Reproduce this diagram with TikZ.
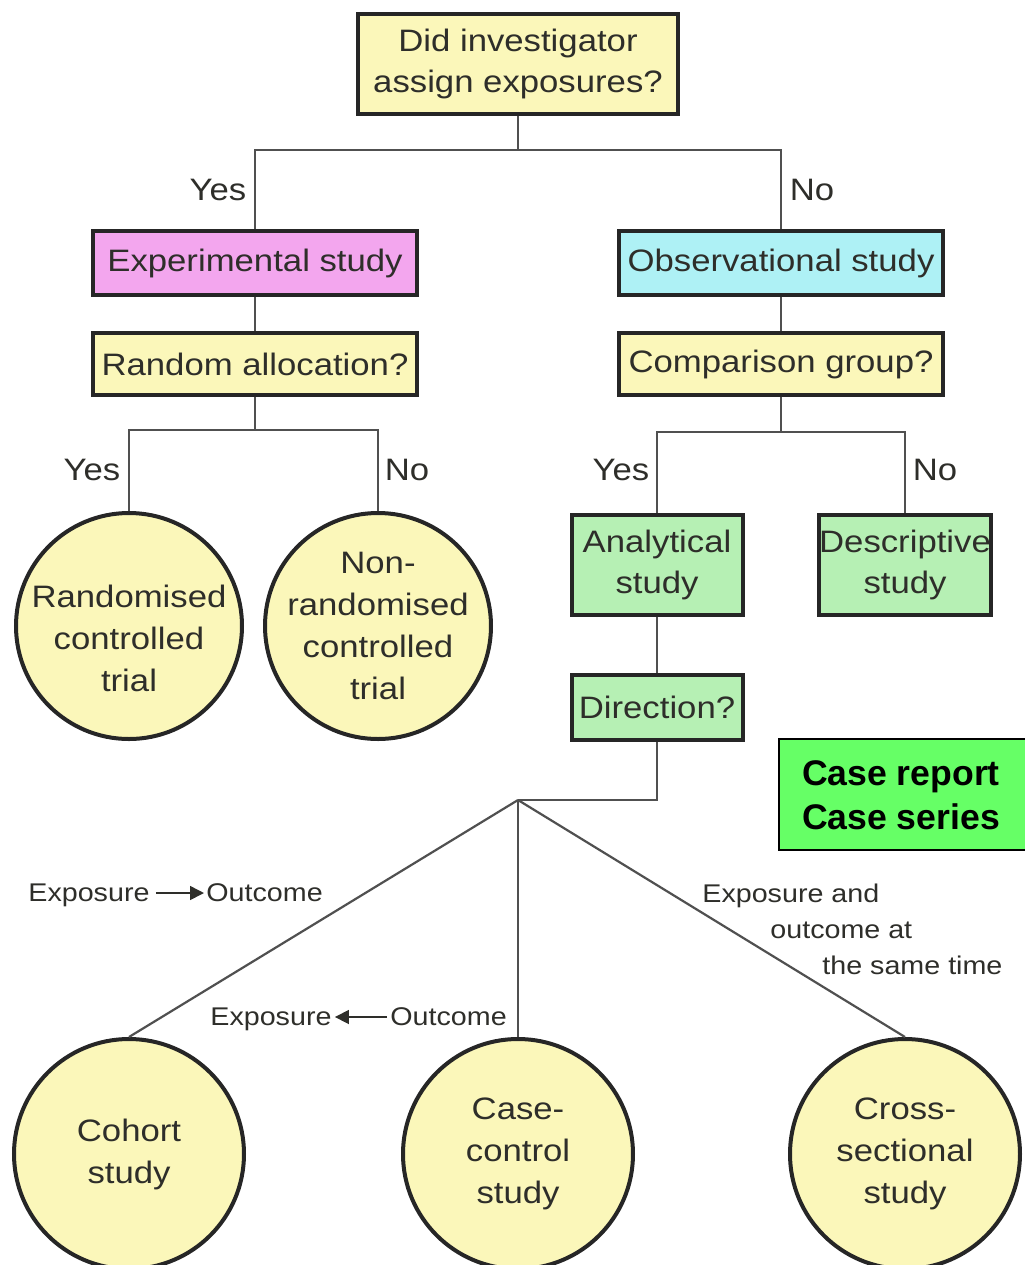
\documentclass[tikz,border=0pt]{standalone}
\usepackage{fontspec}
\setmainfont{Liberation Sans}
\newfontfamily\wide[FakeStretch=1.12]{Liberation Sans}
\usetikzlibrary{arrows.meta}
\definecolor{qyellow}{HTML}{FBF7BA}
\definecolor{qpink}{HTML}{F3A6EE}
\definecolor{qcyan}{HTML}{AEF1F5}
\definecolor{qgreen}{HTML}{B6F0B4}
\definecolor{qbright}{HTML}{66FF66}
\definecolor{qtext}{HTML}{2E2E2A}
\definecolor{qline}{HTML}{505050}
\newcommand{\circtext}[2]{\raisebox{#1}[0pt][0pt]{\begin{tabular}{@{}c@{}}#2\end{tabular}}}
\tikzset{
  qbox/.style={draw=black!85, line width=2pt, text=qtext, align=center, inner sep=0pt,
    font=\wide\fontsize{15.5}{20.5}\selectfont},
  qcirc/.style={circle, draw=black!85, line width=2pt, fill=qyellow, text=qtext, align=center,
    inner sep=0pt, font=\wide\fontsize{15.5}{21}\selectfont},
  conn/.style={draw=qline, line width=1.1pt},
  yn/.style={text=qtext, font=\wide\fontsize{15.5}{17}\selectfont, inner sep=0pt},
  lab/.style={text=qtext, font=\wide\fontsize{12.8}{14}\selectfont, inner sep=0pt},
  labarrow/.style={draw=qtext, line width=0.8pt, -{Triangle[length=7pt,width=7pt]}}
}
\begin{document}
\begin{tikzpicture}[x=0.5pt,y=-0.5pt]
\useasboundingbox (0,0) rectangle (1024,1265);
% boxes
\node[qbox, fill=qyellow, minimum width=160pt, minimum height=50pt] (q1) at (518,63.5) {Did investigator\\assign exposures?};
\node[qbox, fill=qpink, minimum width=162pt, minimum height=32pt] (exp) at (255,263) {Experimental study};
\node[qbox, fill=qcyan, minimum width=162pt, minimum height=32pt] (obs) at (781,263) {Observational study};
\node[qbox, fill=qyellow, minimum width=162pt, minimum height=31pt] (rand) at (255,364) {Random allocation?};
\node[qbox, fill=qyellow, minimum width=162pt, minimum height=31pt] (comp) at (781,364) {Comparison group?};
\node[qcirc, minimum size=113pt] (rct) at (129,626) {\circtext{-11pt}{Randomised\\controlled\\trial}};
\node[qcirc, minimum size=113pt] (nrct) at (378,626) {\circtext{-4.5pt}{Non-\\randomised\\controlled\\trial}};
\node[qbox, fill=qgreen, minimum width=85.5pt, minimum height=50pt] (anal) at (657,564.5) {Analytical\\study};
\node[qbox, fill=qgreen, minimum width=85.5pt, minimum height=50pt] (desc) at (905,564.5) {Descriptive\\study};
\node[qbox, fill=qgreen, minimum width=85.5pt, minimum height=32.5pt] (dir) at (657,707) {Direction?};
\node[qcirc, minimum size=115pt] (coh) at (129,1154) {Cohort\\study};
\node[qcirc, minimum size=115pt] (cc) at (518,1154) {Case-\\control\\study};
\node[qcirc, minimum size=115pt] (cs) at (905,1154) {Cross-\\sectional\\study};
\node[draw=black, line width=1pt, fill=qbright, minimum width=125pt, minimum height=55.5pt, anchor=north west,
  inner sep=0pt] (case) at (778,738) {};
\node[font=\bfseries\fontsize{17.8}{22}\selectfont, align=left, inner sep=0pt, text=black] (casetxt) at (901,795) {Case report\\Case series};
% junctions
\coordinate (j1) at (518,150);
\coordinate (j2) at (255,430);
\coordinate (j3) at (781,432);
\coordinate (j4) at (518,800);
% connectors
\draw[conn] (q1.south) -- (j1);
\draw[conn] (j1) -| (exp.north);
\draw[conn] (j1) -| (obs.north);
\draw[conn] (exp.south) -- (rand.north);
\draw[conn] (obs.south) -- (comp.north);
\draw[conn] (rand.south) -- (j2);
\draw[conn] (j2) -| (rct.north);
\draw[conn] (j2) -| (nrct.north);
\draw[conn] (comp.south) -- (j3);
\draw[conn] (j3) -| (anal.north);
\draw[conn] (j3) -| (desc.north);
\draw[conn] (anal.south) -- (dir.north);
\draw[conn] (dir.south) |- (j4);
\draw[conn] (j4) -- (coh.north);
\draw[conn] (j4) -- (cc.north);
\draw[conn] (j4) -- (cs.north);
% yes / no
\node[yn] (y1) at (218,190) {Yes};
\node[yn] (n1) at (812,190) {No};
\node[yn] (y2) at (92,470) {Yes};
\node[yn] (n2) at (407,470) {No};
\node[yn] (y3) at (621,470) {Yes};
\node[yn] (n3) at (935,470) {No};
% direction labels
\node[lab, anchor=base west] (e1) at (28,901) {Exposure};
\node[lab, anchor=base west] (o1) at (206,901) {Outcome};
\draw[labarrow] ([xshift=3pt,yshift=4pt]e1.base east) -- ([xshift=-1pt,yshift=4pt]o1.base west);
\node[lab, anchor=base west] (e2) at (210,1025) {Exposure};
\node[lab, anchor=base west] (o2) at (390,1025) {Outcome};
\draw[labarrow] ([xshift=-1.5pt,yshift=4pt]o2.base west) -- ([xshift=1.5pt,yshift=4pt]e2.base east);
\node[lab, anchor=base west] (s1) at (702,902) {Exposure and};
\node[lab, anchor=base west] (s2) at (770,938) {outcome at};
\node[lab, anchor=base west] (s3) at (822,974) {the same time};
\end{tikzpicture}
\end{document}
